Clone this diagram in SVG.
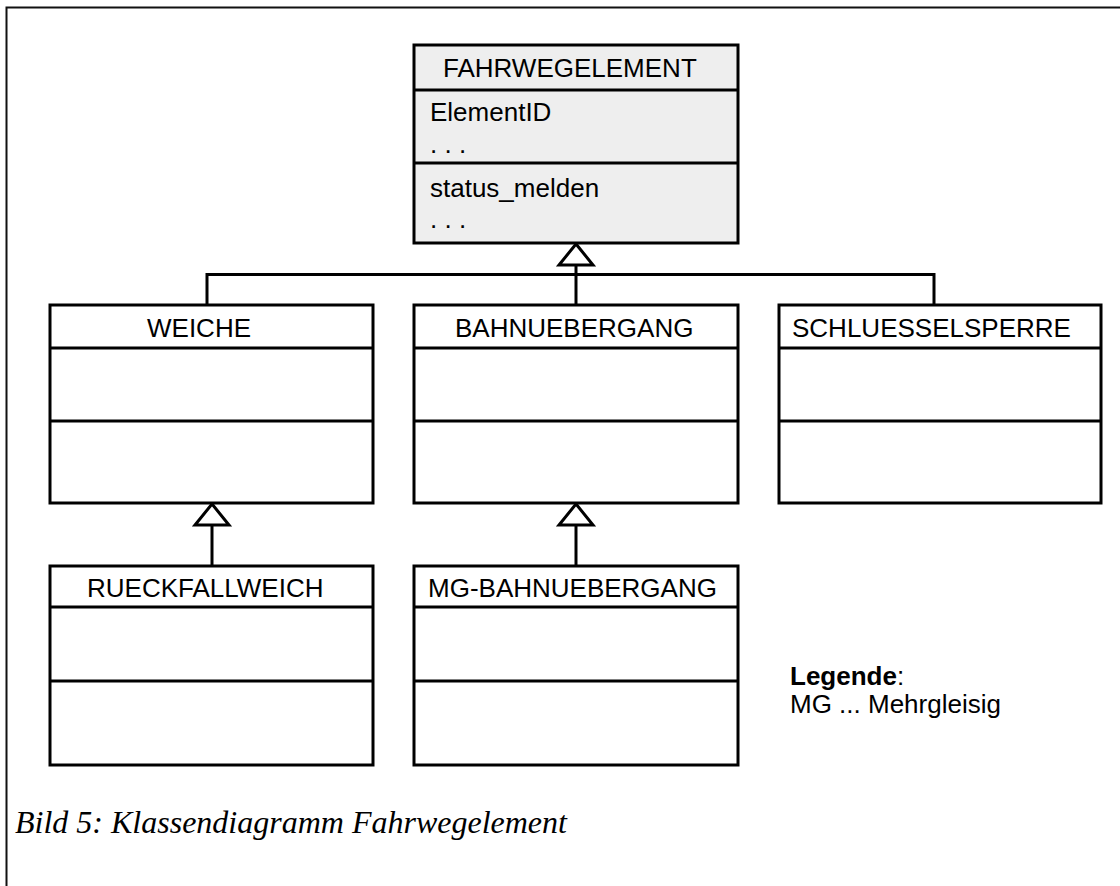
<svg xmlns="http://www.w3.org/2000/svg" width="1120" height="886" viewBox="0 0 1120 886">
<style>
.box{fill:#fff;stroke:#000;stroke-width:3}
.gray{fill:#eeeeee}
.sep{stroke:#000;stroke-width:3;fill:none}
.t{font-family:"Liberation Sans",Arial,sans-serif;font-size:26px;fill:#000}
.c{stroke:#000;stroke-width:3;fill:none}
.tri{fill:#fff;stroke:#000;stroke-width:3;stroke-linejoin:miter}
.cap{font-family:"Liberation Serif","Times New Roman",serif;font-style:italic;font-size:32px;fill:#000}
</style>
<rect width="1120" height="886" fill="#fff"/>
<path d="M6.5 886 V7.5 H1120" fill="none" stroke="#111" stroke-width="2"/>

<g id="connectors">
<path class="c" d="M207 305 V274.5 H934 V305"/>
<path class="c" d="M576 265 V305"/>
<polygon class="tri" points="576,244 559,265 593,265"/>
<path class="c" d="M212 525 V566"/>
<polygon class="tri" points="212,504 195,525 229,525"/>
<path class="c" d="M576 525 V566"/>
<polygon class="tri" points="576,504 559,525 593,525"/>
</g>

<g id="fahrwegelement">
<rect class="box gray" x="414" y="45" width="324" height="198"/>
<line class="sep" x1="414" y1="90" x2="738" y2="90"/>
<line class="sep" x1="414" y1="163" x2="738" y2="163"/>
<text class="t" x="443" y="77">FAHRWEGELEMENT</text>
<text class="t" x="430" y="121">ElementID</text>
<text class="t" x="430" y="153">. . .</text>
<text class="t" x="430" y="197">status_melden</text>
<text class="t" x="430" y="228">. . .</text>
</g>

<g id="weiche">
<rect class="box" x="50" y="305" width="323" height="198"/>
<line class="sep" x1="50" y1="348" x2="373" y2="348"/>
<line class="sep" x1="50" y1="421" x2="373" y2="421"/>
<text class="t" x="147" y="337">WEICHE</text>
</g>

<g id="bahnuebergang">
<rect class="box" x="414" y="305" width="324" height="198"/>
<line class="sep" x1="414" y1="348" x2="738" y2="348"/>
<line class="sep" x1="414" y1="421" x2="738" y2="421"/>
<text class="t" x="455" y="337">BAHNUEBERGANG</text>
</g>

<g id="schluesselsperre">
<rect class="box" x="779" y="305" width="322" height="198"/>
<line class="sep" x1="779" y1="348" x2="1101" y2="348"/>
<line class="sep" x1="779" y1="421" x2="1101" y2="421"/>
<text class="t" x="792" y="337">SCHLUESSELSPERRE</text>
</g>

<g id="rueckfallweich">
<rect class="box" x="50" y="566" width="323" height="199"/>
<line class="sep" x1="50" y1="607" x2="373" y2="607"/>
<line class="sep" x1="50" y1="681" x2="373" y2="681"/>
<text class="t" x="87" y="597">RUECKFALLWEICH</text>
</g>

<g id="mg-bahnuebergang">
<rect class="box" x="414" y="566" width="324" height="199"/>
<line class="sep" x1="414" y1="607" x2="738" y2="607"/>
<line class="sep" x1="414" y1="681" x2="738" y2="681"/>
<text class="t" x="428" y="597">MG-BAHNUEBERGANG</text>
</g>

<g id="legend">
<text class="t" x="790" y="685"><tspan font-weight="bold">Legende</tspan>:</text>
<text class="t" x="790" y="713">MG ... Mehrgleisig</text>
</g>

<text class="cap" x="15" y="833">Bild 5: Klassendiagramm Fahrwegelement</text>
</svg>
